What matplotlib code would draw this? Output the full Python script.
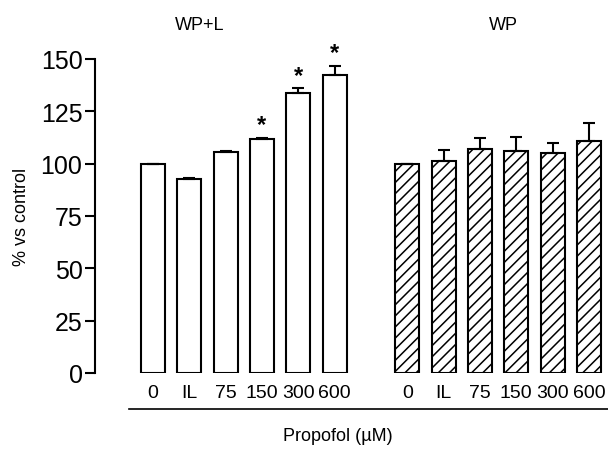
import matplotlib
matplotlib.use("Agg")
import matplotlib.pyplot as plt
from matplotlib.lines import Line2D
import numpy as np

plt.rcParams['font.family'] = ['Liberation Sans', 'DejaVu Sans']
plt.rcParams['hatch.linewidth'] = 1.1

categories = ["0", "IL", "75", "150", "300", "600"]
wpl_values = [100, 92.5, 105.6, 111.6, 133.6, 142.4]
wpl_err = [0, 0.6, 0.4, 0.8, 2.4, 4.4]
wpl_sig = [False, False, False, True, True, True]
wp_values = [100, 101.1, 107.2, 106.2, 105.3, 111.0]
wp_err = [0, 5.6, 5.1, 6.7, 4.6, 8.4]

fig = plt.figure(figsize=(6.08, 4.52), dpi=100)
ax = fig.add_axes([95/608, 1-374/452, 1-95/608, (374-60)/452])

x_left = np.arange(len(categories))
x_right = np.arange(len(categories)) + len(categories) + 1
w = 0.66

ax.bar(x_left, wpl_values, width=w, color='white', edgecolor='black', linewidth=1.5, zorder=2)
ax.errorbar(x_left, wpl_values, yerr=[np.zeros(len(wpl_err)), wpl_err], fmt='none',
            ecolor='black', elinewidth=1.5, capsize=4, capthick=1.5, clip_on=False, zorder=3)
ax.bar(x_right, wp_values, width=w, color='white', edgecolor='black', linewidth=1.5,
       hatch='///', zorder=2)
ax.errorbar(x_right, wp_values, yerr=[np.zeros(len(wp_err)), wp_err], fmt='none',
            ecolor='black', elinewidth=1.5, capsize=4, capthick=1.5, clip_on=False, zorder=3)

for xi, v, e, s in zip(x_left, wpl_values, wpl_err, wpl_sig):
    if s:
        ax.annotate('*', xy=(xi, v + e), xytext=(0, 1), textcoords='offset points',
                    ha='center', va='bottom', fontsize=17, fontweight='bold',
                    annotation_clip=False)

ax.set_ylim(0, 150)
ax.set_xlim((95-153)/36.33, (608-153)/36.33)
ax.set_yticks([0, 25, 50, 75, 100, 125, 150])
ax.tick_params(axis='y', labelsize=18, width=1.5, length=7, direction='out', pad=2)
ax.set_xticks(list(x_left) + list(x_right))
ax.set_xticklabels(categories + categories)
ax.tick_params(axis='x', length=0, labelsize=14, pad=8)
for sp in ['top', 'right', 'bottom']:
    ax.spines[sp].set_visible(False)
ax.spines['left'].set_linewidth(1.5)
ax.set_ylabel('% vs control', fontsize=13, labelpad=8)

fig.text(200/608, 1-25/452, 'WP+L', ha='center', va='center', fontsize=13)
fig.text(503/608, 1-25/452, 'WP', ha='center', va='center', fontsize=13)

fig.add_artist(Line2D([129/608, 1.0], [1-410/452, 1-410/452], color='black', linewidth=1.2))
fig.text(338/608, 1-437/452, 'Propofol (µM)', ha='center', va='center', fontsize=13)

fig.savefig('out.png', dpi=100)
